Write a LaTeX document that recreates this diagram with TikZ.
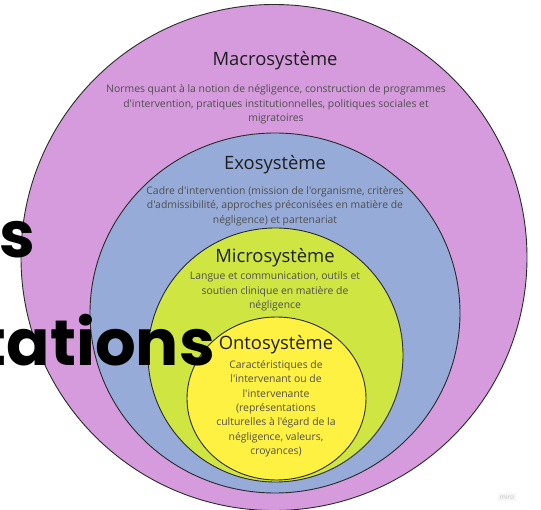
\documentclass[tikz,border=0pt]{standalone}
\usepackage{fontspec}
\setmainfont{Open Sans}[Ligatures=TeXOff]
\newfontfamily\bigf{Poppins}
\definecolor{macroC}{HTML}{D59BDC}
\definecolor{exoC}{HTML}{96ABD8}
\definecolor{microC}{HTML}{CFE642}
\definecolor{ontoC}{HTML}{FFF142}
\definecolor{lineC}{HTML}{2A2A2A}
\definecolor{titleC}{HTML}{1E1E1E}
\definecolor{bodyC}{HTML}{4F4F4F}
\begin{document}
\begin{tikzpicture}[x=1pt,y=-1pt,
  ring/.style={draw=lineC, line width=0.9pt},
  systitle/.style={font=\fontsize{18.4}{22}\selectfont, text=titleC, inner sep=0, anchor=base},
  sysbody/.style={font=\fontsize{10.4}{14.5}\selectfont, text=bodyC, align=center, inner sep=0, anchor=base},
  bigword/.style={font=\bigf\bfseries\fontsize{64}{70}\selectfont, text=black, inner sep=0, anchor=base east}]
\useasboundingbox (0,0) rectangle (541,510);
\clip (0,0) rectangle (541,510);
\fill[white] (0,0) rectangle (541,510);
% rings
\path[ring, fill=macroC] (274,257.5) ellipse [x radius=253, y radius=253];
\path[ring, fill=exoC] (275,313) ellipse [x radius=185, y radius=180];
\path[ring, fill=microC] (275.5,355) ellipse [x radius=127.5, y radius=127];
\path[ring, fill=ontoC] (276.5,398.5) ellipse [x radius=89.5, y radius=81.5];
% texts (body nodes anchored at the baseline of their last line)
\node[systitle] (macroT) at (275,66) {Macrosystème};
\node[sysbody] (macroB) at (276,122) {Normes quant à la notion de négligence, construction de programmes\\d'intervention, pratiques institutionnelles, politiques sociales et\\migratoires};
\node[systitle] (exoT) at (275,170) {Exosystème};
\node[sysbody] (exoB) at (275,223.5) {Cadre d'intervention (mission de l'organisme, critères\\d'admissibilité, approches préconisées en matière de\\négligence) et partenariat};
\node[systitle] (microT) at (275,263) {Microsystème};
\node[sysbody] (microB) at (275,309) {Langue et communication, outils et\\soutien clinique en matière de\\négligence};
\node[systitle] (ontoT) at (276,350) {Ontosystème};
\node[sysbody] (ontoB) at (276,455) {Caractéristiques de\\l'intervenant ou de\\l'intervenante\\(représentations\\culturelles à l'égard de la\\négligence, valeurs,\\croyances)};
% big overlapping words
\node[bigword] (bigS) at (35,258) {s};
\node[bigword] (bigT) at (215,366) {tations};
% watermark
\node[fill=black!3, text=black!25, font=\fontsize{6.5}{7}\selectfont, inner sep=1.5pt] (miro) at (507,497) {miro};
\end{tikzpicture}
\end{document}
